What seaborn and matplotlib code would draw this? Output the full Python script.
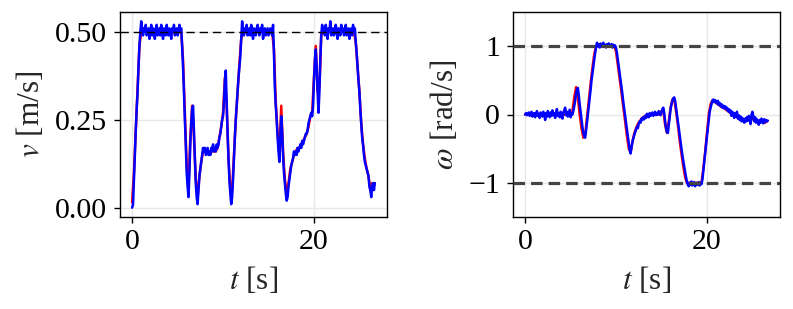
import numpy as np
import pandas as pd
import matplotlib
matplotlib.use("Agg")
import matplotlib.pyplot as plt
import seaborn as sns

# ---------------- data ----------------
dt_meas = 0.1   # sampling step of measured (blue) series [s]
dt_ref = 0.2    # sampling step of reference (red) series [s]

v_meas = [
    0.00, 0.01, 0.08, 0.15, 0.22, 0.28, 0.33, 0.40, 0.46, 0.50,
    0.53, 0.51, 0.49, 0.51, 0.50, 0.52, 0.49, 0.50, 0.51, 0.48,
    0.50, 0.52, 0.49, 0.51, 0.50, 0.48, 0.51, 0.52, 0.49, 0.50,
    0.51, 0.49, 0.52, 0.50, 0.48, 0.51, 0.50, 0.49, 0.52, 0.50,
    0.49, 0.51, 0.50, 0.48, 0.51, 0.50, 0.52, 0.49, 0.50, 0.51,
    0.49, 0.50, 0.52, 0.50, 0.51, 0.46, 0.40, 0.33, 0.25, 0.18,
    0.10, 0.06, 0.03, 0.10, 0.18, 0.24, 0.28, 0.29, 0.22, 0.14,
    0.07, 0.03, 0.01, 0.05, 0.09, 0.11, 0.13, 0.15, 0.17, 0.16,
    0.17, 0.15, 0.16, 0.17, 0.15, 0.16, 0.15, 0.17, 0.16, 0.18,
    0.16, 0.17, 0.16, 0.18, 0.17, 0.18, 0.20, 0.21, 0.23, 0.25,
    0.26, 0.30, 0.36, 0.39, 0.30, 0.21, 0.14, 0.08, 0.04, 0.01,
    0.03, 0.08, 0.14, 0.20, 0.25, 0.29, 0.33, 0.37, 0.40, 0.43,
    0.48, 0.53, 0.50, 0.49, 0.51, 0.50, 0.52, 0.49, 0.50, 0.51,
    0.49, 0.52, 0.50, 0.48, 0.51, 0.50, 0.49, 0.51, 0.52, 0.50,
    0.49, 0.51, 0.50, 0.52, 0.48, 0.50, 0.51, 0.49, 0.50, 0.51,
    0.49, 0.50, 0.51, 0.50, 0.49, 0.52, 0.44, 0.34, 0.29, 0.25,
    0.20, 0.16, 0.13, 0.20, 0.26, 0.22, 0.15, 0.10, 0.07, 0.04,
    0.02, 0.03, 0.06, 0.08, 0.10, 0.12, 0.13, 0.14, 0.16, 0.15,
    0.16, 0.15, 0.17, 0.16, 0.17, 0.18, 0.17, 0.19, 0.18, 0.19,
    0.20, 0.21, 0.21, 0.22, 0.24, 0.25, 0.26, 0.27, 0.26, 0.29,
    0.36, 0.42, 0.45, 0.40, 0.33, 0.27, 0.33, 0.42, 0.49, 0.52,
    0.50, 0.51, 0.49, 0.52, 0.50, 0.48, 0.51, 0.50, 0.53, 0.49,
    0.50, 0.51, 0.49, 0.50, 0.52, 0.50, 0.48, 0.51, 0.50, 0.49,
    0.52, 0.50, 0.51, 0.49, 0.50, 0.52, 0.49, 0.50, 0.51, 0.48,
    0.50, 0.51, 0.49, 0.52, 0.50, 0.51, 0.47, 0.44, 0.40, 0.36,
    0.33, 0.28, 0.24, 0.20, 0.18, 0.15, 0.13, 0.12, 0.11, 0.10,
    0.09, 0.06, 0.05, 0.03, 0.06, 0.07, 0.05, 0.07,
]

v_ref = [
    0.015, 0.10, 0.22, 0.34, 0.46,
    0.50, 0.50, 0.50, 0.50, 0.50,
    0.50, 0.50, 0.50, 0.50, 0.50,
    0.50, 0.50, 0.50, 0.50, 0.50,
    0.50, 0.50, 0.50, 0.50, 0.50,
    0.50, 0.50, 0.50, 0.42, 0.27,
    0.12, 0.06, 0.20, 0.29, 0.20,
    0.08, 0.03, 0.09, 0.13, 0.16,
    0.16, 0.16, 0.16, 0.16, 0.16,
    0.16, 0.16, 0.17, 0.20, 0.23,
    0.27, 0.37, 0.29, 0.14, 0.05,
    0.05, 0.15, 0.25, 0.33, 0.41,
    0.48, 0.50, 0.50, 0.50, 0.50,
    0.50, 0.50, 0.50, 0.50, 0.50,
    0.50, 0.50, 0.50, 0.50, 0.50,
    0.50, 0.50, 0.50, 0.45, 0.30,
    0.21, 0.15, 0.29, 0.16, 0.08,
    0.04, 0.07, 0.11, 0.13, 0.15,
    0.16, 0.17, 0.17, 0.18, 0.19,
    0.20, 0.21, 0.23, 0.26, 0.27,
    0.37, 0.46, 0.33, 0.34, 0.49,
    0.50, 0.50, 0.50, 0.50, 0.50,
    0.50, 0.50, 0.50, 0.50, 0.50,
    0.50, 0.50, 0.50, 0.50, 0.50,
    0.50, 0.50, 0.50, 0.47, 0.40,
    0.33, 0.24, 0.18, 0.14, 0.11,
    0.09, 0.05, 0.07, 0.06,
]

w_meas = [
    0.00, 0.02, -0.01, 0.01, 0.03, -0.02, 0.00, 0.04, -0.03, 0.01,
    0.02, -0.04, 0.00, 0.05, -0.02, 0.01, -0.05, 0.03, 0.00, -0.03,
    0.04, 0.01, -0.08, 0.02, -0.03, 0.05, 0.00, -0.04, 0.03, -0.02,
    0.06, -0.01, 0.02, -0.05, 0.03, 0.08, -0.02, 0.01, -0.04, 0.04,
    0.00, -0.06, 0.03, 0.06, 0.10, -0.01, 0.04, -0.03, 0.02, 0.07,
    -0.04, 0.01, 0.00, 0.05, 0.12, 0.20, 0.30, 0.37, 0.39, 0.28,
    0.15, 0.04, -0.08, -0.18, -0.26, -0.32, -0.34, -0.24, -0.12, 0.00,
    0.12, 0.24, 0.36, 0.50, 0.60, 0.70, 0.80, 0.90, 0.98, 1.05,
    1.00, 1.03, 0.98, 1.04, 1.01, 0.99, 1.05, 1.00, 1.02, 0.98,
    1.03, 1.00, 1.04, 0.99, 1.01, 1.03, 0.98, 1.02, 1.00, 1.01,
    0.97, 0.90, 0.80, 0.70, 0.60, 0.50, 0.40, 0.30, 0.18, 0.08,
    -0.02, -0.12, -0.22, -0.32, -0.42, -0.52, -0.57, -0.48, -0.40, -0.35,
    -0.30, -0.26, -0.22, -0.18, -0.20, -0.13, -0.10, -0.12, -0.06, -0.08,
    -0.04, -0.07, -0.02, -0.05, 0.01, -0.03, -0.04, 0.02, -0.02, 0.00,
    0.03, -0.02, 0.01, 0.04, -0.01, 0.02, 0.00, 0.05, 0.01, -0.01,
    0.03, 0.08, 0.10, 0.02, -0.10, -0.20, -0.26, -0.27, -0.15, -0.02,
    0.08, 0.15, 0.20, 0.24, 0.25, 0.20, 0.10, 0.00, -0.10, -0.20,
    -0.30, -0.40, -0.50, -0.60, -0.68, -0.76, -0.84, -0.92, -0.98, -1.03,
    -1.05, -1.00, -1.03, -0.98, -1.04, -1.01, -0.99, -1.05, -1.02, -1.00,
    -1.03, -0.99, -1.04, -1.00, -1.02, -0.95, -0.83, -0.70, -0.57, -0.44,
    -0.32, -0.20, -0.08, 0.04, 0.10, 0.15, 0.20, 0.22, 0.18, 0.21,
    0.19, 0.16, 0.20, 0.14, 0.17, 0.12, 0.15, 0.10, 0.13, 0.09,
    0.12, 0.08, 0.10, 0.05, 0.08, 0.03, 0.06, -0.02, 0.04, 0.01,
    -0.05, 0.02, -0.03, 0.04, -0.06, -0.01, -0.08, -0.03, -0.10, -0.05,
    -0.08, -0.12, -0.06, -0.10, -0.04, -0.09, -0.02, -0.07, -0.14, 0.00,
    0.04, -0.02, -0.10, -0.04, -0.12, -0.07, -0.11, -0.15, -0.08, -0.12,
    -0.06, -0.10, -0.13, -0.07, -0.11, -0.08, -0.10, -0.09,
]

w_ref = [
    0.00, 0.00, 0.00, 0.00, 0.00,
    0.00, 0.00, 0.00, 0.00, 0.00,
    0.00, 0.00, 0.00, 0.00, 0.00,
    0.00, 0.00, 0.00, 0.00, 0.00,
    0.00, 0.00, 0.00, 0.00, 0.00,
    0.00, 0.05, 0.25, 0.40, 0.25,
    0.00, -0.20, -0.34, -0.30, -0.05,
    0.20, 0.45, 0.68, 0.88, 1.00,
    1.00, 1.00, 1.00, 1.00, 1.00,
    1.00, 1.00, 1.00, 1.00, 1.00,
    0.92, 0.72, 0.52, 0.32, 0.10,
    -0.10, -0.32, -0.50, -0.55, -0.40,
    -0.28, -0.20, -0.14, -0.10, -0.06,
    -0.04, -0.02, -0.01, 0.00, 0.00,
    0.00, 0.00, 0.00, 0.00, 0.00,
    0.05, 0.05, -0.15, -0.27, -0.10,
    0.10, 0.22, 0.22, 0.05, -0.15,
    -0.38, -0.58, -0.76, -0.92, -1.00,
    -1.00, -1.00, -1.00, -1.00, -1.00,
    -1.00, -1.00, -1.00, -0.80, -0.55,
    -0.28, 0.00, 0.15, 0.21, 0.20,
    0.17, 0.15, 0.13, 0.11, 0.10,
    0.08, 0.06, 0.04, 0.02, 0.00,
    -0.02, -0.03, -0.05, -0.06, -0.07,
    -0.08, -0.08, -0.07, -0.05, -0.04,
    -0.06, -0.09, -0.10, -0.11, -0.11,
    -0.10, -0.11, -0.12, -0.10,
]

v_limit = 0.5
w_limits = [1.0, -1.0]

v_ticks = [0.0, 0.25, 0.5]
v_ticklabels = ["0.00", "0.25", "0.50"]
w_ticks = [-1, 0, 1]
t_ticks = [0, 20]

# ---------------- style ----------------
sns.set_theme(style="whitegrid")
plt.rcParams.update({
    "font.family": ["Liberation Serif", "DejaVu Serif"],
    "mathtext.fontset": "stix",
    "axes.edgecolor": "black",
    "axes.linewidth": 1.0,
    "grid.color": "#e8e8e8",
    "grid.linewidth": 1.0,
    "xtick.bottom": True,
    "ytick.left": True,
    "xtick.major.size": 4.5,
    "ytick.major.size": 4.5,
    "xtick.major.width": 1.0,
    "ytick.major.width": 1.0,
    "xtick.color": "black",
    "ytick.color": "black",
    "xtick.major.pad": 4,
    "ytick.major.pad": 5,
})

FS = 21.5
FS_LABEL = 22.5

df_v_meas = pd.DataFrame({"t": np.arange(len(v_meas)) * dt_meas, "y": v_meas})
df_v_ref = pd.DataFrame({"t": np.arange(len(v_ref)) * dt_ref, "y": v_ref})
df_w_meas = pd.DataFrame({"t": np.arange(len(w_meas)) * dt_meas, "y": w_meas})
df_w_ref = pd.DataFrame({"t": np.arange(len(w_ref)) * dt_ref, "y": w_ref})

fig = plt.figure(figsize=(7.93, 3.09), dpi=100)
ax1 = fig.add_axes([120 / 793, 1 - 217 / 309, 267 / 793, 205 / 309])
ax2 = fig.add_axes([513 / 793, 1 - 217 / 309, 267 / 793, 205 / 309])

# left: linear velocity
sns.lineplot(data=df_v_ref, x="t", y="y", ax=ax1, color="red", lw=1.8,
             estimator=None, sort=False)
sns.lineplot(data=df_v_meas, x="t", y="y", ax=ax1, color="blue", lw=1.8,
             estimator=None, sort=False)
ax1.axhline(v_limit, color="black", lw=1.0, dashes=(6, 3.5), zorder=5)
ax1.set_yticks(v_ticks)
ax1.set_yticklabels(v_ticklabels)
ax1.set_xticks(t_ticks)
ax1.set_xlabel(r"$t$ [s]", fontsize=FS_LABEL, labelpad=7)
ax1.set_ylabel(r"$v$ [m/s]", fontsize=FS_LABEL, labelpad=6)

# right: angular velocity
sns.lineplot(data=df_w_ref, x="t", y="y", ax=ax2, color="red", lw=1.8,
             estimator=None, sort=False)
sns.lineplot(data=df_w_meas, x="t", y="y", ax=ax2, color="blue", lw=1.8,
             estimator=None, sort=False)
for lim in w_limits:
    ax2.axhline(lim, color="#444444", lw=2.3, dashes=(3.6, 1.9), zorder=5)
ax2.set_ylim(-1.5, 1.5)
ax2.set_yticks(w_ticks)
ax2.set_xticks(t_ticks)
ax2.set_xlabel(r"$t$ [s]", fontsize=FS_LABEL, labelpad=7)
ax2.set_ylabel(r"$\omega$ [rad/s]", fontsize=FS_LABEL, labelpad=6)

for ax in (ax1, ax2):
    ax.tick_params(labelsize=FS)
    for s in ax.spines.values():
        s.set_color("black")
        s.set_linewidth(1.0)

fig.savefig("out.png", dpi=100)
